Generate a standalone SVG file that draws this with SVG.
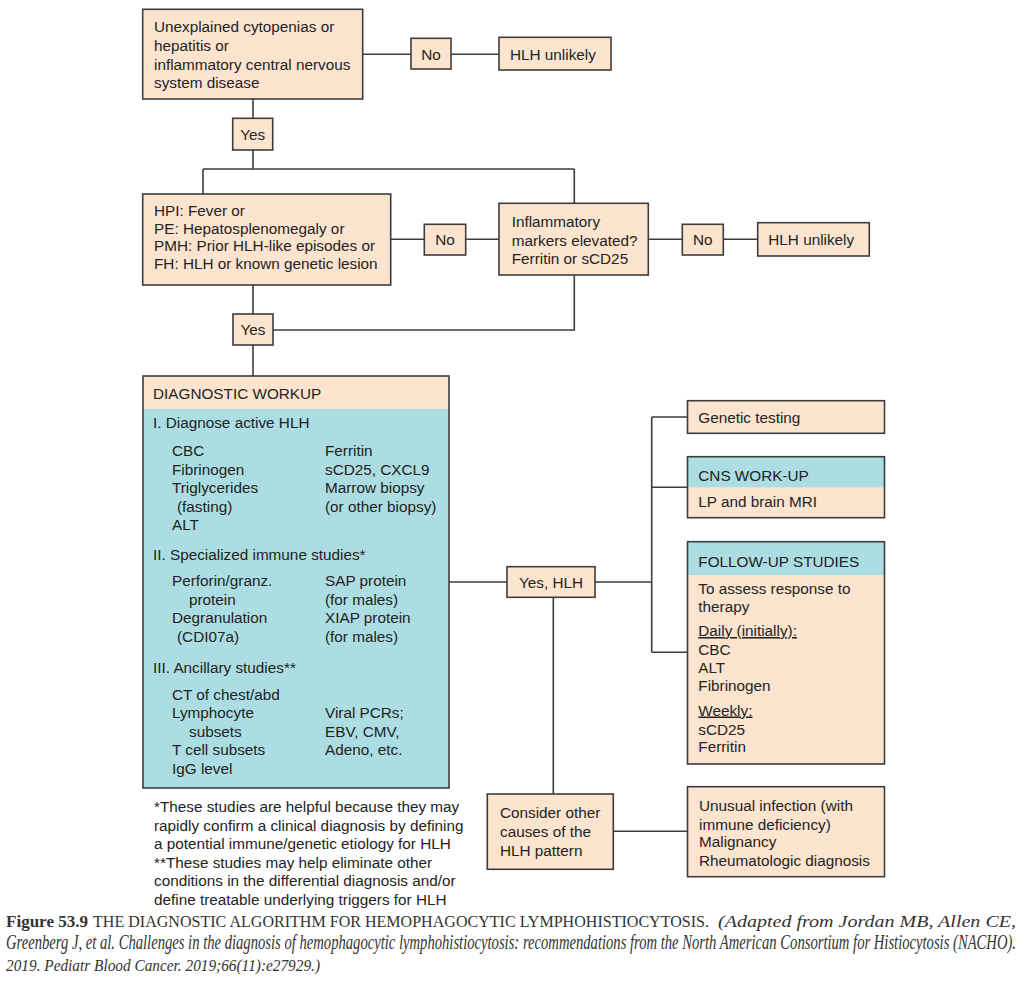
<svg xmlns="http://www.w3.org/2000/svg" width="1025" height="997" viewBox="0 0 1025 997">
<style>
.pe{fill:#fce4cf;stroke:none}
.tl{fill:#abdde2;stroke:none}
.bx{fill:none;stroke:#3d3d3d;stroke-width:1.6}
.ln{fill:none;stroke:#3d3d3d;stroke-width:1.6}
text{font-family:"Liberation Sans",Arial,sans-serif;font-size:15.3px;fill:#232323}
.c{text-anchor:middle}
.cap{font-family:"Liberation Serif","Times New Roman",serif;font-size:16px;fill:#333}
.u{text-decoration:underline}
</style>
<rect width="1025" height="997" fill="#ffffff"/>
<g id="connectors">
<path class="ln" d="M362.7 54.3H411M451 54.3H499"/>
<path class="ln" d="M253 99V118.3M253 150V169M203 169H574.3M203 169V194M574.3 169V203.3"/>
<path class="ln" d="M390.7 239.3H424.3M465.7 239.3H499M648.3 239.3H682.3M723.3 239.3H757.7"/>
<path class="ln" d="M253 285V314M253 345V376M574.3 275V330H273"/>
<path class="ln" d="M449 582H507M595 582H651.7M651.7 417V652.3M651.7 417H687.5M651.7 487.3H687.5M651.7 652.3H687.5"/>
<path class="ln" d="M553.3 597.3V794M613.3 831.3H687.5"/>
</g>
<g id="n_start">
<rect class="pe" x="142.7" y="9.3" width="220" height="89.7"/>
<rect class="bx" x="142.7" y="9.3" width="220" height="89.7"/>
<text x="154" y="32">Unexplained cytopenias or</text>
<text x="154" y="51">hepatitis or</text>
<text x="154" y="69.5">inflammatory central nervous</text>
<text x="154" y="88">system disease</text>
</g>
<g id="n_no1">
<rect class="pe" x="411" y="38.3" width="40" height="30.7"/>
<rect class="bx" x="411" y="38.3" width="40" height="30.7"/>
<text class="c" x="431" y="59.5">No</text>
</g>
<g id="n_unlikely1">
<rect class="pe" x="499" y="37.3" width="112" height="32.7"/>
<rect class="bx" x="499" y="37.3" width="112" height="32.7"/>
<text x="510" y="59.5">HLH unlikely</text>
</g>
<g id="n_yes1">
<rect class="pe" x="232.7" y="118.3" width="40" height="31.7"/>
<rect class="bx" x="232.7" y="118.3" width="40" height="31.7"/>
<text class="c" x="252.7" y="139.5">Yes</text>
</g>
<g id="n_hpi">
<rect class="pe" x="142.7" y="194" width="248" height="91"/>
<rect class="bx" x="142.7" y="194" width="248" height="91"/>
<text x="154" y="216">HPI: Fever or</text>
<text x="154" y="233.5">PE: Hepatosplenomegaly or</text>
<text x="154" y="251">PMH: Prior HLH-like episodes or</text>
<text x="154" y="268.5">FH: HLH or known genetic lesion</text>
</g>
<g id="n_no2">
<rect class="pe" x="424.3" y="224.3" width="41.4" height="30.7"/>
<rect class="bx" x="424.3" y="224.3" width="41.4" height="30.7"/>
<text class="c" x="445" y="245">No</text>
</g>
<g id="n_inflam">
<rect class="pe" x="499" y="203.3" width="149.3" height="71.7"/>
<rect class="bx" x="499" y="203.3" width="149.3" height="71.7"/>
<text x="511.7" y="227">Inflammatory</text>
<text x="511.7" y="245.5">markers elevated?</text>
<text x="511.7" y="264">Ferritin or sCD25</text>
</g>
<g id="n_no3">
<rect class="pe" x="682.3" y="224.3" width="41" height="30.7"/>
<rect class="bx" x="682.3" y="224.3" width="41" height="30.7"/>
<text class="c" x="702.8" y="245">No</text>
</g>
<g id="n_unlikely2">
<rect class="pe" x="757.7" y="222.7" width="111.6" height="33.3"/>
<rect class="bx" x="757.7" y="222.7" width="111.6" height="33.3"/>
<text x="768.3" y="245">HLH unlikely</text>
</g>
<g id="n_yes2">
<rect class="pe" x="233" y="314" width="40" height="31"/>
<rect class="bx" x="233" y="314" width="40" height="31"/>
<text class="c" x="253" y="335">Yes</text>
</g>
<g id="n_workup">
<rect class="tl" x="143" y="376" width="306" height="412"/>
<rect class="pe" x="143" y="376" width="306" height="33"/>
<rect class="bx" x="143" y="376" width="306" height="412"/>
<text x="153" y="399">DIAGNOSTIC WORKUP</text>
<text x="153" y="428">I. Diagnose active HLH</text>
<text x="172" y="456">CBC</text>
<text x="172" y="474.5">Fibrinogen</text>
<text x="172" y="493">Triglycerides</text>
<text x="177" y="511.5">(fasting)</text>
<text x="172" y="530">ALT</text>
<text x="325" y="456">Ferritin</text>
<text x="325" y="474.5">sCD25, CXCL9</text>
<text x="325" y="493">Marrow biopsy</text>
<text x="325" y="511.5">(or other biopsy)</text>
<text x="153" y="560">II. Specialized immune studies*</text>
<text x="172" y="586">Perforin/granz.</text>
<text x="189" y="604.5">protein</text>
<text x="172" y="623">Degranulation</text>
<text x="177" y="641.5">(CDI07a)</text>
<text x="325" y="586">SAP protein</text>
<text x="325" y="604.5">(for males)</text>
<text x="325" y="623">XIAP protein</text>
<text x="325" y="641.5">(for males)</text>
<text x="153" y="673">III. Ancillary studies**</text>
<text x="172" y="699.5">CT of chest/abd</text>
<text x="172" y="718">Lymphocyte</text>
<text x="189" y="736.5">subsets</text>
<text x="172" y="755">T cell subsets</text>
<text x="172" y="773.5">IgG level</text>
<text x="325" y="718">Viral PCRs;</text>
<text x="325" y="736.5">EBV, CMV,</text>
<text x="325" y="755">Adeno, etc.</text>
</g>
<g id="footnotes">
<text x="154" y="812">*These studies are helpful because they may</text>
<text x="154" y="830.5">rapidly confirm a clinical diagnosis by defining</text>
<text x="154" y="849">a potential immune/genetic etiology for HLH</text>
<text x="154" y="867.5">**These studies may help eliminate other</text>
<text x="154" y="886">conditions in the differential diagnosis and/or</text>
<text x="154" y="904.5">define treatable underlying triggers for HLH</text>
</g>
<g id="n_yeshlh">
<rect class="pe" x="507" y="566.7" width="88" height="30.6"/>
<rect class="bx" x="507" y="566.7" width="88" height="30.6"/>
<text class="c" x="551" y="587.5">Yes, HLH</text>
</g>
<g id="n_genetic">
<rect class="pe" x="687.5" y="400.7" width="197" height="32.6"/>
<rect class="bx" x="687.5" y="400.7" width="197" height="32.6"/>
<text x="698.3" y="422.5">Genetic testing</text>
</g>
<g id="n_cns">
<rect class="pe" x="687.5" y="456.7" width="197" height="61"/>
<rect class="tl" x="687.5" y="456.7" width="197" height="30.6"/>
<rect class="bx" x="687.5" y="456.7" width="197" height="61"/>
<text x="698.3" y="480.5">CNS WORK-UP</text>
<text x="698.3" y="507">LP and brain MRI</text>
</g>
<g id="n_followup">
<rect class="pe" x="687.5" y="541.7" width="197" height="222.3"/>
<rect class="tl" x="687.5" y="541.7" width="197" height="33.3"/>
<rect class="bx" x="687.5" y="541.7" width="197" height="222.3"/>
<text x="698.3" y="567">FOLLOW-UP STUDIES</text>
<text x="698.3" y="594">To assess response to</text>
<text x="698.3" y="612">therapy</text>
<text class="u" x="698.3" y="636">Daily (initially):</text>
<text x="698.3" y="655">CBC</text>
<text x="698.3" y="672.5">ALT</text>
<text x="698.3" y="691">Fibrinogen</text>
<text class="u" x="698.3" y="715.5">Weekly:</text>
<text x="698.3" y="734.5">sCD25</text>
<text x="698.3" y="752">Ferritin</text>
</g>
<g id="n_consider">
<rect class="pe" x="487.3" y="794" width="126" height="75.3"/>
<rect class="bx" x="487.3" y="794" width="126" height="75.3"/>
<text x="500" y="818">Consider other</text>
<text x="500" y="837">causes of the</text>
<text x="500" y="855.5">HLH pattern</text>
</g>
<g id="n_causes">
<rect class="pe" x="687.5" y="786.7" width="197" height="90"/>
<rect class="bx" x="687.5" y="786.7" width="197" height="90"/>
<text x="699" y="810.5">Unusual infection (with</text>
<text x="699" y="829.5">immune deficiency)</text>
<text x="699" y="847">Malignancy</text>
<text x="699" y="865.5">Rheumatologic diagnosis</text>
</g>
<g id="caption">
<text class="cap" x="6" y="927" font-weight="bold" textLength="82" lengthAdjust="spacingAndGlyphs">Figure 53.9</text>
<text class="cap" x="93" y="927" textLength="616" lengthAdjust="spacingAndGlyphs">THE DIAGNOSTIC ALGORITHM FOR HEMOPHAGOCYTIC LYMPHOHISTIOCYTOSIS.</text>
<text class="cap" x="718" y="927" font-style="italic" textLength="298" lengthAdjust="spacingAndGlyphs">(Adapted from Jordan MB, Allen CE,</text>
<text class="cap" transform="translate(6 949) scale(1 1.27)" x="0" y="0" font-style="italic" font-size="11" textLength="1010" lengthAdjust="spacingAndGlyphs">Greenberg J, et al. Challenges in the diagnosis of hemophagocytic lymphohistiocytosis: recommendations from the North American Consortium for Histiocytosis (NACHO).</text>
<text class="cap" x="6" y="971" font-style="italic" textLength="314" lengthAdjust="spacingAndGlyphs">2019. Pediatr Blood Cancer. 2019;66(11):e27929.)</text>
</g>
</svg>
